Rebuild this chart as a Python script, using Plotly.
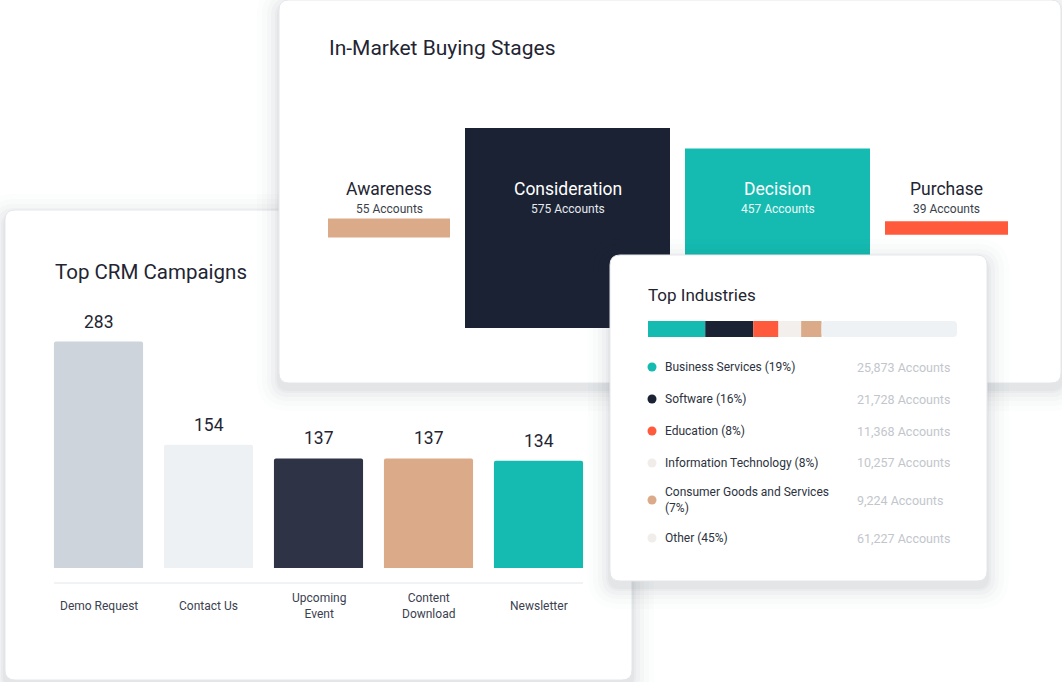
import plotly.graph_objects as go

W, H = 1062, 682

# ---------------- data ----------------
crm_campaigns = ["Demo Request", "Contact Us", "Upcoming Event", "Content Download", "Newsletter"]
crm_tick_labels = ["Demo Request", "Contact Us", "Upcoming<br>Event", "Content<br>Download", "Newsletter"]
crm_values = [283, 154, 137, 137, 134]

stage_names = ["Awareness", "Consideration", "Decision", "Purchase"]
stage_accounts = [55, 575, 457, 39]

industry_names = ["Business Services", "Software", "Education", "Information Technology",
                  "Consumer Goods and Services", "Other"]
industry_pcts = [19, 16, 8, 8, 7, 45]
industry_accounts = [25873, 21728, 11368, 10257, 9224, 61227]

# ---------------- styles ----------------
FONT = "Roboto"
DARK = "#1f2533"
crm_colors = ["#cdd4dc", "#eef1f4", "#2e3445", "#dbaa89", "#15bbb1"]
stage_colors = ["#dbaa89", "#1b2233", "#15bbb1", "#ff5a3c"]
stage_text_colors = [DARK, "#ffffff", "#ffffff", DARK]
stage_sub_colors = ["#3a3f4b", "#e6e9ee", "#eafaf8", "#3a3f4b"]
stage_bar_widths = [122, 205, 185, 123]   # visual widths (layout)
stage_gap = 15
industry_colors = ["#15bbb1", "#1b2233", "#ff5a3c", "#f3efec", "#dbaa89", "#eff2f5"]
industry_dot_colors = ["#15bbb1", "#1b2233", "#ff5a3c", "#f0ece9", "#dbaa89", "#f0edea"]
legend_rows_px = [367, 399, 431, 463, 500, 538]

card1 = (5, 210, 632, 680)
card2 = (279, 0, 1061, 383)
card3 = (610, 255, 987, 581)


def px_x(p):
    return p / W


def px_y(p):
    return 1 - p / H


def rr_path(l, t, r, b, rad, mx, my):
    pts = [
        ("M", (l + rad, t)), ("L", (r - rad, t)), ("Q", (r, t), (r, t + rad)),
        ("L", (r, b - rad)), ("Q", (r, b), (r - rad, b)), ("L", (l + rad, b)),
        ("Q", (l, b), (l, b - rad)), ("L", (l, t + rad)), ("Q", (l, t), (l + rad, t)),
    ]
    s = ""
    for item in pts:
        cmd = item[0]
        coords = " ".join(f"{mx(x):.6f},{my(y):.6f}" for x, y in item[1:])
        s += f"{cmd} {coords} "
    return s + "Z"


def card_shapes(card, mx, my, xref, yref):
    l, t, r, b = card
    shapes = []
    for e, a in [(22, 0.012), (17, 0.015), (12, 0.019), (8, 0.023), (4, 0.027), (2, 0.03)]:
        shapes.append(dict(type="path", xref=xref, yref=yref, layer="below",
                           path=rr_path(l - e, t - e + 6, r + e, b + e + 6, 10 + e, mx, my),
                           fillcolor=f"rgba(40,50,70,{a})", line=dict(width=0)))
    shapes.append(dict(type="path", xref=xref, yref=yref, layer="below",
                       path=rr_path(l, t, r, b, 10, mx, my),
                       fillcolor="#ffffff", line=dict(color="#e4e7eb", width=1)))
    return shapes


fig = go.Figure()
shapes = []
annotations = []

# ---------------- card 1 & 2 backgrounds (paper) ----------------
shapes += card_shapes(card1, px_x, px_y, "paper", "paper")
shapes += card_shapes(card2, px_x, px_y, "paper", "paper")

# ---------------- card 1 : Top CRM Campaigns ----------------
k1 = 0.80  # px per unit
y1_top_px, y1_base_px = 300, 568
fig.add_trace(go.Bar(
    x=crm_campaigns, y=crm_values, marker=dict(color=crm_colors, line=dict(width=0), cornerradius=2),
    width=0.81, xaxis="x", yaxis="y", hoverinfo="skip", showlegend=False))
for c, v, lab in zip(crm_campaigns, crm_values, crm_tick_labels):
    annotations.append(dict(x=c, y=v, xref="x", yref="y", text=str(v), showarrow=False,
                            yshift=20, yanchor="middle", font=dict(family=FONT, size=17.5, color=DARK)))
    annotations.append(dict(x=c, y=px_y(606), xref="x", yref="paper", text=lab, showarrow=False,
                            yanchor="middle", align="center",
                            font=dict(family=FONT, size=12, color="#3b4150")))
annotations.append(dict(x=px_x(53), y=px_y(272), xref="paper", yref="paper", text="Top CRM Campaigns",
                        showarrow=False, xanchor="left", yanchor="middle",
                        font=dict(family=FONT, size=20.5, color=DARK)))
shapes.append(dict(type="line", xref="paper", yref="paper", x0=px_x(54), x1=px_x(583),
                   y0=px_y(583), y1=px_y(583), line=dict(color="#e3e6ea", width=1), layer="below"))

# ---------------- card 2 : In-Market Buying Stages ----------------
x2_total = sum(stage_bar_widths) + stage_gap * (len(stage_bar_widths) - 1)
stage_centers = []
cur = 0
for w in stage_bar_widths:
    stage_centers.append(cur + w / 2)
    cur += w + stage_gap
s2 = 200 / 575.0  # px per account
center2_px = 228
y2_dom = (110, 350)
fig.add_trace(go.Bar(
    x=stage_centers, y=stage_accounts, base=[-v / 2 for v in stage_accounts], width=stage_bar_widths,
    marker=dict(color=stage_colors, line=dict(width=0)), xaxis="x2", yaxis="y2",
    hoverinfo="skip", showlegend=False))
for cx, name, acc, tc, sc in zip(stage_centers, stage_names, stage_accounts, stage_text_colors, stage_sub_colors):
    annotations.append(dict(x=cx, y=px_y(189), xref="x2", yref="paper", text=name, showarrow=False,
                            yanchor="middle", font=dict(family=FONT, size=17.5, color=tc)))
    annotations.append(dict(x=cx, y=px_y(209), xref="x2", yref="paper", text=f"{acc} Accounts",
                            showarrow=False, yanchor="middle", font=dict(family=FONT, size=12, color=sc)))
annotations.append(dict(x=px_x(327), y=px_y(48), xref="paper", yref="paper", text="In-Market Buying Stages",
                        showarrow=False, xanchor="left", yanchor="middle",
                        font=dict(family=FONT, size=21, color=DARK)))

# ---------------- card 3 : Top Industries (own subplot, drawn on top) ----------------
total3 = sum(industry_accounts)
bar3_l, bar3_r, bar3_c = 648, 957, 329
s3 = total3 / (bar3_r - bar3_l)


def x3(p):
    return (p - bar3_l) * s3


def y3(p):
    return bar3_c - p


dom3 = (585, 235, 1012, 611)
shapes += card_shapes(card3, x3, y3, "x3", "y3")

cum = 0
n_ind = len(industry_names)
for i, (name, acc, col) in enumerate(zip(industry_names, industry_accounts, industry_colors)):
    mk = dict(color=col, line=dict(width=0))
    if i == n_ind - 1:
        mk["cornerradius"] = 4
    fig.add_trace(go.Bar(
        y=[0], x=[acc], base=[cum], orientation="h", width=16,
        marker=mk, xaxis="x3", yaxis="y3",
        hoverinfo="skip", showlegend=False))
    cum += acc

fig.add_trace(go.Scatter(
    x=[x3(652)] * n_ind, y=[y3(p) for p in legend_rows_px], mode="markers",
    marker=dict(size=9, color=industry_dot_colors, line=dict(width=0)),
    xaxis="x3", yaxis="y3", hoverinfo="skip", showlegend=False))

for name, pct, acc, py in zip(industry_names, industry_pcts, industry_accounts, legend_rows_px):
    label = f"{name} ({pct}%)"
    if len(label) > 30:
        label = f"{name}<br>({pct}%)"
    annotations.append(dict(x=px_x(663), y=px_y(py), xref="paper", yref="paper", text=label,
                            showarrow=False, xanchor="left", yanchor="middle", align="left",
                            font=dict(family=FONT, size=12, color="#2c3240")))
    annotations.append(dict(x=px_x(855), y=px_y(py), xref="paper", yref="paper", text=f"{acc:,} Accounts",
                            showarrow=False, xanchor="left", yanchor="middle",
                            font=dict(family=FONT, size=12.5, color="#c2c6cc")))
annotations.append(dict(x=px_x(646), y=px_y(295), xref="paper", yref="paper", text="Top Industries",
                        showarrow=False, xanchor="left", yanchor="middle",
                        font=dict(family=FONT, size=17, color=DARK)))

hidden = dict(visible=False, showgrid=False, zeroline=False, fixedrange=True)
fig.update_layout(
    width=W, height=H, margin=dict(l=0, r=0, t=0, b=0),
    paper_bgcolor="#ffffff", plot_bgcolor="rgba(0,0,0,0)",
    barmode="overlay", showlegend=False,
    xaxis=dict(domain=[px_x(43.5), px_x(593.5)], range=[-0.5, 4.5], type="category", **hidden),
    yaxis=dict(domain=[px_y(y1_base_px), px_y(y1_top_px)], range=[0, (y1_base_px - y1_top_px) / k1], **hidden),
    xaxis2=dict(domain=[px_x(328), px_x(328 + x2_total)], range=[0, x2_total], anchor="y2", **hidden),
    yaxis2=dict(domain=[px_y(y2_dom[1]), px_y(y2_dom[0])],
                range=[-(y2_dom[1] - center2_px) / s2, (center2_px - y2_dom[0]) / s2], anchor="x2", **hidden),
    xaxis3=dict(domain=[px_x(dom3[0]), px_x(dom3[2])], range=[x3(dom3[0]), x3(dom3[2])], anchor="y3", **hidden),
    yaxis3=dict(domain=[px_y(dom3[3]), px_y(dom3[1])], range=[y3(dom3[3]), y3(dom3[1])], anchor="x3", **hidden),
    shapes=shapes, annotations=annotations,
)

fig.write_html("out.html", config={"displayModeBar": False},
               post_script="document.body.style.margin='0px';document.body.style.overflow='hidden';")
